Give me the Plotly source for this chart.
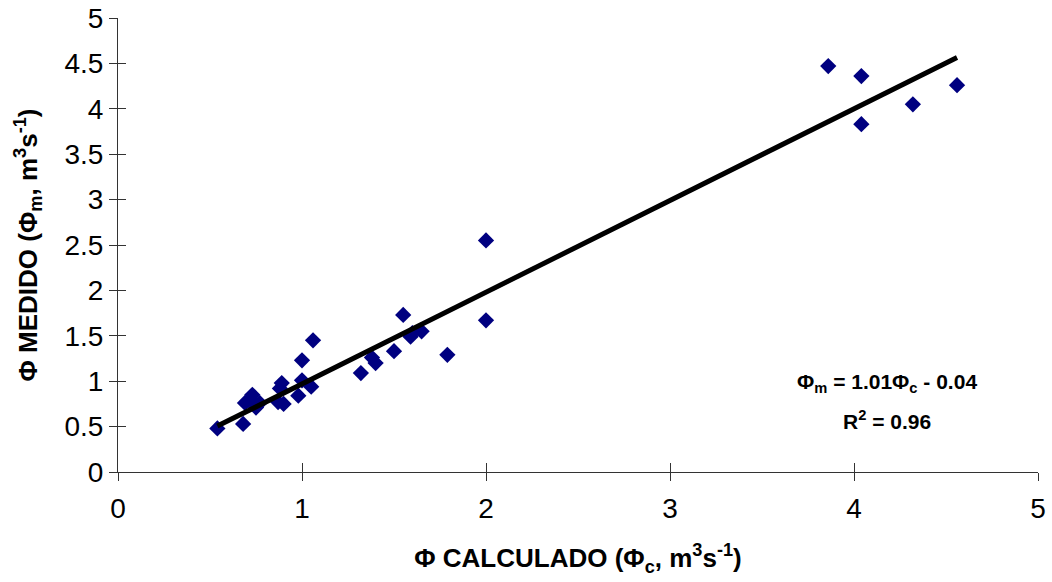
import plotly.graph_objects as go

# Data
phi_calculado = [0.54, 0.68, 0.69, 0.72, 0.73, 0.75, 0.77, 0.87, 0.88, 0.89, 0.90,
                 0.98, 1.00, 1.00, 1.05, 1.06, 1.32, 1.38, 1.40, 1.50, 1.55, 1.59,
                 1.60, 1.65, 1.79, 2.00, 2.00, 3.86, 4.04, 4.04, 4.32, 4.56]
phi_medido = [0.48, 0.53, 0.76, 0.80, 0.85, 0.71, 0.76, 0.77, 0.92, 0.98, 0.75,
              0.84, 1.01, 1.23, 0.94, 1.45, 1.09, 1.26, 1.20, 1.33, 1.73, 1.49,
              1.53, 1.55, 1.29, 1.67, 2.55, 4.47, 4.36, 3.83, 4.05, 4.26]

slope = 1.01
intercept = -0.04
r_squared = 0.96

tick_vals_x = [0, 1, 2, 3, 4, 5]
tick_vals_y = [0, 0.5, 1, 1.5, 2, 2.5, 3, 3.5, 4, 4.5, 5]
tick_text_y = ["0", "0.5", "1", "1.5", "2", "2.5", "3", "3.5", "4", "4.5", "5"]

fit_x = [min(phi_calculado), max(phi_calculado)]
fit_y = [slope * v + intercept for v in fit_x]

FONT = "Liberation Sans, Arial, sans-serif"

fig = go.Figure()
fig.add_trace(go.Scatter(
    x=phi_calculado, y=phi_medido, mode="markers",
    marker=dict(symbol="diamond", size=12.5, color="#000080", line=dict(width=0)),
    showlegend=False, hoverinfo="skip"))
fig.add_trace(go.Scatter(
    x=fit_x, y=fit_y, mode="lines",
    line=dict(color="black", width=5),
    showlegend=False, hoverinfo="skip"))
# invisible trace to carry the overlaid tick axes
fig.add_trace(go.Scatter(x=[None], y=[None], xaxis="x2", yaxis="y2",
                         showlegend=False, hoverinfo="skip"))

axis_common = dict(showgrid=False, zeroline=False, showline=True, automargin=False,
                   linecolor="#333333", linewidth=1,
                   ticks="outside", ticklen=8, tickcolor="#333333", tickwidth=1,
                   tickfont=dict(family=FONT, size=28, color="black"))

fig.update_layout(
    width=1052, height=582,
    margin=dict(l=118, r=14, t=18, b=110),
    plot_bgcolor="white", paper_bgcolor="white",
    xaxis=dict(range=[0, 5], tickvals=tick_vals_x, **axis_common,
               ticklabelstandoff=3,
               title=dict(text="Φ CALCULADO (Φ<sub>c</sub>, m<sup>3</sup>s<sup>-1</sup>)",
                          font=dict(family=FONT, size=26, color="black", weight="bold"),
                          standoff=26)),
    yaxis=dict(range=[0, 5], tickvals=tick_vals_y, ticktext=tick_text_y, **axis_common,
               ticklabelstandoff=0,
               title=dict(text="Φ MEDIDO (Φ<sub>m</sub>, m<sup>3</sup>s<sup>-1</sup>)",
                          font=dict(family=FONT, size=26, color="black", weight="bold"),
                          standoff=19)),
    xaxis2=dict(range=[0, 5], tickvals=tick_vals_x, overlaying="x", anchor="y",
                side="bottom", showgrid=False, zeroline=False, showline=False,
                automargin=False,
                ticks="inside", ticklen=9, tickcolor="#333333", tickwidth=1,
                showticklabels=False),
    yaxis2=dict(range=[0, 5], tickvals=tick_vals_y, overlaying="y", anchor="x",
                side="left", showgrid=False, zeroline=False, showline=False,
                automargin=False,
                ticks="inside", ticklen=8, tickcolor="#333333", tickwidth=1,
                showticklabels=False),
    annotations=[
        dict(x=4.18, y=(472 - 383) / 90.8, xref="x", yref="y", showarrow=False,
             xanchor="center", yanchor="middle",
             text="<b>Φ<sub>m</sub> = %.2fΦ<sub>c</sub> - %.2f</b>" % (slope, -intercept),
             font=dict(family=FONT, size=21, color="black")),
        dict(x=4.18, y=(472 - 420) / 90.8, xref="x", yref="y", showarrow=False,
             xanchor="center", yanchor="middle",
             text="<b>R<sup>2</sup> = %.2f</b>" % r_squared,
             font=dict(family=FONT, size=21, color="black")),
    ],
)

fig.write_html("out.html",
               config={"displayModeBar": False},
               post_script="document.body.style.margin='0';document.body.style.overflow='hidden';")
